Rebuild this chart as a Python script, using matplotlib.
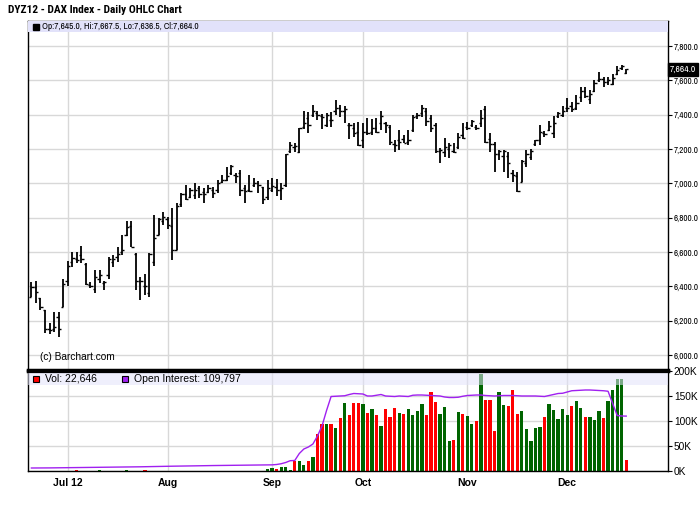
import numpy as np
import pandas as pd
import matplotlib
matplotlib.use('Agg')
import matplotlib.pyplot as plt
from matplotlib.patches import Rectangle
from matplotlib.transforms import blended_transform_factory

plt.rcParams['font.family'] = ['Liberation Sans', 'DejaVu Sans']
NARROW = ['Archivo Narrow', 'Liberation Sans', 'DejaVu Sans']
NARROW_BOLD = ['Roboto Condensed', 'Liberation Sans', 'DejaVu Sans']

# DYZ12 daily bars, first session 2012-06-20
start_date = '2012-06-20'
opens = [6340, 6395, 6330, 6262, 6150, 6150, 6222, 6281, 6430, 6540,
         6560, 6580, 6530, 6410, 6385, 6440, 6420, 6465, 6540, 6570,
         6600, 6700, 6750, 6590, 6430, 6400, 6360, 6540, 6700, 6780,
         6790, 6750, 6611, 6880, 6940, 6920, 6930, 6970, 6950, 6950,
         6960, 6960, 7010, 7020, 7060, 7050, 7060, 6970, 6960, 6990,
         7000, 6980, 6920, 6960, 6980, 6960, 6990, 7190, 7210, 7180,
         7330, 7380, 7400, 7410, 7390, 7340, 7370, 7420, 7440, 7420,
         7340, 7320, 7300, 7250, 7300, 7300, 7320, 7350, 7350, 7330,
         7230, 7250, 7260, 7240, 7310, 7390, 7410, 7420, 7380, 7340,
         7190, 7180, 7200, 7190, 7210, 7280, 7330, 7340, 7330, 7350,
         7430, 7260, 7230, 7170, 7160, 7160, 7060, 7040, 7010, 7120,
         7150, 7230, 7250, 7290, 7310, 7290, 7390, 7400, 7440, 7450,
         7440, 7500, 7540, 7490, 7540, 7600, 7610, 7590, 7580, 7635,
         7670, 7645.0]
highs = [6427, 6431, 6330, 6262, 6184, 6248, 6252, 6441, 6549, 6600,
         6598, 6637, 6538, 6427, 6495, 6495, 6431, 6573, 6582, 6631,
         6699, 6780, 6780, 6596, 6456, 6470, 6596, 6815, 6796, 6835,
         6802, 6858, 6883, 6942, 6990, 6971, 7000, 6984, 6971, 6990,
         6980, 7019, 7048, 7093, 7107, 7058, 7077, 6990, 7048, 7029,
         7015, 6980, 7019, 7029, 7023, 7004, 7171, 7243, 7233, 7320,
         7423, 7412, 7456, 7423, 7404, 7408, 7412, 7485, 7456, 7447,
         7353, 7349, 7359, 7349, 7379, 7373, 7379, 7418, 7359, 7340,
         7252, 7311, 7281, 7311, 7398, 7408, 7456, 7437, 7398, 7349,
         7204, 7262, 7233, 7233, 7295, 7353, 7359, 7369, 7340, 7427,
         7447, 7291, 7243, 7194, 7194, 7184, 7078, 7068, 7136, 7194,
         7200, 7252, 7340, 7305, 7363, 7392, 7417, 7447, 7495, 7476,
         7514, 7563, 7563, 7544, 7602, 7650, 7621, 7621, 7634, 7680,
         7689, 7667.5]
lows = [6335, 6300, 6262, 6126, 6120, 6136, 6107, 6281, 6402, 6512,
        6538, 6538, 6410, 6390, 6360, 6417, 6377, 6440, 6510, 6543,
        6582, 6695, 6627, 6378, 6318, 6349, 6336, 6518, 6699, 6757,
        6732, 6553, 6611, 6864, 6903, 6912, 6907, 6912, 6883, 6942,
        6912, 6942, 7004, 7015, 7048, 7004, 6926, 6887, 6951, 6980,
        6942, 6878, 6903, 6951, 6926, 6903, 6980, 7175, 7184, 7178,
        7314, 7291, 7388, 7369, 7314, 7330, 7330, 7398, 7388, 7349,
        7256, 7272, 7217, 7204, 7282, 7282, 7291, 7311, 7291, 7223,
        7184, 7194, 7233, 7223, 7301, 7373, 7388, 7334, 7301, 7175,
        7120, 7155, 7146, 7175, 7198, 7256, 7311, 7330, 7311, 7330,
        7233, 7184, 7068, 7136, 7068, 7029, 7010, 6951, 7006, 7097,
        7136, 7214, 7223, 7272, 7305, 7266, 7379, 7388, 7417, 7413,
        7427, 7476, 7495, 7460, 7534, 7592, 7563, 7573, 7573, 7631,
        7660, 7636.5]
closes = [6398, 6368, 6280, 6149, 6145, 6165, 6150, 6411, 6520, 6566,
          6555, 6560, 6415, 6400, 6455, 6465, 6425, 6560, 6560, 6590,
          6610, 6747, 6631, 6430, 6430, 6402, 6585, 6680, 6790, 6806,
          6757, 6611, 6865, 6935, 6907, 6960, 6960, 6935, 6940, 6975,
          6945, 7000, 7019, 7040, 7100, 7040, 6960, 6955, 6955, 7000,
          6990, 6910, 6970, 6985, 6960, 6975, 7168, 7225, 7215, 7320,
          7350, 7340, 7420, 7400, 7385, 7395, 7370, 7440, 7420, 7430,
          7340, 7290, 7220, 7300, 7290, 7320, 7300, 7390, 7340, 7240,
          7225, 7240, 7235, 7250, 7385, 7400, 7440, 7360, 7320, 7190,
          7195, 7210, 7225, 7180, 7270, 7265, 7320, 7360, 7320, 7380,
          7240, 7230, 7170, 7185, 7190, 7115, 7050, 6955, 7130, 7170,
          7190, 7250, 7300, 7285, 7335, 7350, 7410, 7420, 7440, 7430,
          7470, 7540, 7510, 7520, 7585, 7610, 7590, 7600, 7615, 7660,
          7680, 7664.0]
# volume and open interest in thousands of contracts
volume_k = [0, 0, 0, 0, 0, 0, 0, 0, 0, 0,
            3, 0, 0, 0, 0, 3, 0, 0, 0, 0,
            0, 3, 0, 0, 0, 3, 0, 0, 0, 0,
            0, 0, 0, 0, 0, 0, 0, 0, 0, 0,
            0, 0, 0, 0, 0, 0, 0, 0, 0, 0,
            0, 0, 5, 6, 5, 8, 8, 3, 20, 20,
            12, 20, 28, 75, 95, 95, 95, 87, 107, 137,
            113, 137, 137, 135, 117, 125, 113, 91, 125, 109,
            127, 117, 115, 125, 113, 121, 135, 113, 159, 139,
            115, 128, 61, 63, 118, 115, 111, 95, 101, 195,
            143, 143, 80, 159, 133, 131, 163, 115, 121, 84,
            61, 86, 88, 109, 135, 123, 105, 125, 113, 131,
            141, 127, 109, 109, 103, 121, 107, 141, 163, 185,
            185, 22.646]
open_int_k = [6.0, 6.0, 6.1, 6.1, 6.2, 6.3, 6.3, 6.4, 6.5, 6.6,
              6.6, 6.7, 6.8, 6.9, 7.0, 7.1, 7.2, 7.3, 7.5, 7.6,
              7.8, 7.9, 8.0, 8.2, 8.4, 8.6, 8.8, 9.0, 9.2, 9.3,
              9.4, 9.6, 9.7, 9.9, 10.0, 10.2, 10.3, 10.5, 10.6, 10.8,
              10.9, 11.0, 11.1, 11.2, 11.3, 11.4, 11.5, 11.6, 11.7, 11.8,
              11.9, 12.0, 12.0, 12.3, 13.0, 14.5, 17.0, 20.6, 21.0, 35.0,
              44.0, 48.0, 54.0, 70.0, 90.0, 121.0, 149.0, 149.5, 150.0, 150.5,
              153.0, 155.0, 154.5, 154.0, 150.0, 150.0, 151.5, 153.0, 150.0, 149.5,
              149.0, 150.0, 149.5, 149.0, 151.5, 152.0, 152.0, 151.5, 151.0, 150.5,
              150.0, 148.0, 147.0, 147.0, 147.5, 149.5, 151.0, 151.5, 152.0, 152.0,
              151.0, 150.5, 150.0, 150.5, 151.0, 151.0, 151.0, 150.5, 150.0, 150.0,
              150.0, 150.0, 149.5, 149.0, 151.0, 153.0, 155.0, 155.5, 158.0, 160.5,
              161.0, 161.5, 162.0, 162.0, 161.5, 161.0, 160.5, 159.5, 135.0, 111.0,
              110.0, 109.797]
month_labels = ['Jul 12', 'Aug', 'Sep', 'Oct', 'Nov', 'Dec']
price_ticks = [6000, 6200, 6400, 6600, 6800, 7000, 7200, 7400, 7600, 7800]
vol_ticks = [0, 50, 100, 150, 200]

n = len(closes)
x = np.arange(n)
dates = pd.bdate_range(start_date, periods=n)
month_idx = [int(np.argmax(dates.month == m)) for m in [7, 8, 9, 10, 11, 12]]
prev = np.r_[opens[0], closes[:-1]]
up = np.array(closes) >= prev

GRID = '#d8d8d8'
BAND = '#e2e2fa'
GREEN = '#006400'
RED = '#ff0000'
PURPLE = '#a020f0'

fig = plt.figure(figsize=(7, 5.12), dpi=100)
ax = fig.add_axes([28 / 700, 1 - 370 / 512, 640 / 700, 349 / 512])
axv = fig.add_axes([28 / 700, 1 - 471 / 512, 640 / 700, 100 / 512])

for a in (ax, axv):
    a.set_xlim(-0.75, 140.2)
    a.set_xticks(month_idx)
    a.grid(True, color=GRID, lw=1)
    a.set_axisbelow(True)
    a.yaxis.tick_right()
    a.tick_params(axis='y', direction='out', length=3, width=0.8, pad=1.2)
    a.tick_params(axis='x', length=0)
    for s in a.spines.values():
        s.set_linewidth(1)

# price panel
ax.set_ylim(5912, 7945)
ax.set_yticks(price_ticks)
ax.set_yticklabels([f'{v:,.1f}' for v in price_ticks], family=NARROW, fontsize=6.5)
ax.tick_params(axis='x', labelbottom=False)
ax.spines['bottom'].set_linewidth(2.5)
ax.vlines(x, lows, highs, color='black', lw=1.3, zorder=3)
ax.hlines(opens, x - 0.5, x, color='black', lw=1.0, zorder=3)
ax.hlines(closes, x, x + 0.5, color='black', lw=1.0, zorder=3)

ax.add_patch(Rectangle((0, 0.968), 1, 0.032, transform=ax.transAxes,
                       facecolor=BAND, edgecolor='none', zorder=4))
ax.plot([0.012], [0.984], marker='s', ms=4.5, color='black', transform=ax.transAxes,
        clip_on=False, zorder=5)
ax.text(0.022, 0.984,
        f'Op:{opens[-1]:,.1f}, Hi:{highs[-1]:,.1f}, Lo:{lows[-1]:,.1f}, Cl:{closes[-1]:,.1f}',
        transform=ax.transAxes, va='center', ha='left', fontsize=6.7, family=NARROW, zorder=5)
ax.text(0.018, 0.038, '(c) Barchart.com', transform=ax.transAxes,
        va='center', ha='left', fontsize=7.3)

tr = blended_transform_factory(ax.transAxes, ax.transData)
ax.text(1.003, closes[-1], f'{closes[-1]:,.1f}', transform=tr, color='white',
        fontsize=6.8, family=NARROW, va='center', ha='left', clip_on=False, zorder=6,
        bbox=dict(facecolor='black', edgecolor='black', pad=1.3))

# volume panel
axv.set_ylim(0, 200)
axv.set_yticks(vol_ticks)
axv.set_yticklabels([f'{v}K' for v in vol_ticks])
axv.tick_params(axis='y', labelsize=7.3)
axv.set_xticklabels(month_labels, fontweight='bold', fontsize=7.5)
axv.tick_params(axis='x', pad=5)
axv.spines['top'].set_linewidth(2.5)
axv.bar(x, volume_k, width=0.72, color=np.where(up, GREEN, RED), zorder=2)
axv.plot(x, open_int_k, color=PURPLE, lw=1, zorder=3)
axv.add_patch(Rectangle((0, 0.865), 1, 0.12, transform=axv.transAxes,
                        facecolor=BAND, edgecolor='none', alpha=0.55, zorder=4))
axv.plot([0.012], [0.925], marker='s', ms=5, mfc=RED, mec='black', mew=0.8,
         transform=axv.transAxes, clip_on=False, zorder=5)
axv.text(0.026, 0.925, f'Vol: {round(volume_k[-1] * 1000):,}', transform=axv.transAxes,
         va='center', ha='left', fontsize=7.5, zorder=5)
axv.plot([0.152], [0.925], marker='s', ms=5, mfc=PURPLE, mec='black', mew=0.8,
         transform=axv.transAxes, clip_on=False, zorder=5)
axv.text(0.166, 0.925, f'Open Interest: {round(open_int_k[-1] * 1000):,}',
         transform=axv.transAxes, va='center', ha='left', fontsize=7.5, zorder=5)

fig.text(8 / 700, 1 - 10 / 512, 'DYZ12 - DAX Index - Daily OHLC Chart',
         fontsize=8.2, fontweight='bold', family=NARROW_BOLD, va='center', ha='left')

fig.savefig('out.png', dpi=100)
